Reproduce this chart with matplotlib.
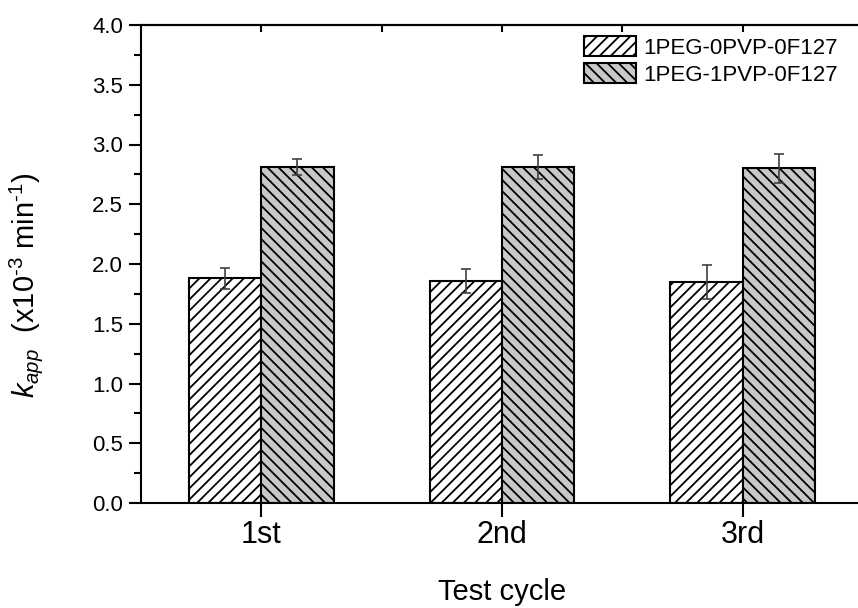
import matplotlib
matplotlib.use("Agg")
import matplotlib.pyplot as plt
import numpy as np

plt.rcParams['font.family'] = ['Liberation Sans', 'DejaVu Sans']
plt.rcParams['mathtext.fontset'] = 'custom'
plt.rcParams['mathtext.rm'] = 'Liberation Sans'
plt.rcParams['mathtext.it'] = 'Liberation Sans:italic'
plt.rcParams['hatch.linewidth'] = 1.3

cycles = ['1st', '2nd', '3rd']
names = ['1PEG-0PVP-0F127', '1PEG-1PVP-0F127']
k_0pvp = [1.88, 1.86, 1.85]
err_0pvp = [0.09, 0.10, 0.14]
k_1pvp = [2.81, 2.81, 2.80]
err_1pvp = [0.065, 0.10, 0.12]

x = np.arange(1, len(cycles) + 1)
w = 0.3

fig = plt.figure(figsize=(8.58, 6.08), dpi=100)
ax = fig.add_axes([141/858, 105/608, 722/858, 478/608])

ax.bar(x - w/2, k_0pvp, w, color='white', edgecolor='black', lw=1.5,
       hatch='///', label=names[0])
ax.bar(x + w/2, k_1pvp, w, color='#c8c8c8', edgecolor='black', lw=1.5,
       hatch='\\\\\\', label=names[1])
ax.errorbar(x - w/2, k_0pvp, yerr=err_0pvp, fmt='none', ecolor='#404040',
            elinewidth=1.2, capsize=3.6, capthick=1.2)
ax.errorbar(x + w/2, k_1pvp, yerr=err_1pvp, fmt='none', ecolor='#404040',
            elinewidth=1.2, capsize=3.6, capthick=1.2)

ax.set_xlim(0.5, 3.5)
ax.set_ylim(0, 4.0)
ax.set_xticks(x)
ax.set_xticklabels(cycles, fontsize=22)
ax.set_yticks(np.arange(0, 4.01, 0.5))
ax.set_yticklabels(['%.1f' % v for v in np.arange(0, 4.01, 0.5)], fontsize=16)
ax.set_yticks(np.arange(0.25, 4.0, 0.5), minor=True)
ax.tick_params(axis='y', which='major', direction='out', length=9, width=1.5, pad=4)
ax.tick_params(axis='y', which='minor', direction='out', length=5, width=1.5)
ax.tick_params(axis='x', which='major', direction='out', length=10, width=1.5, pad=2)

top = ax.secondary_xaxis('top')
top.set_xticks(np.arange(1, 3.6, 0.5))
top.tick_params(direction='in', length=5, width=1.5, labeltop=False)
top.spines['top'].set_linewidth(1.5)

for s in ['left', 'bottom', 'top']:
    ax.spines[s].set_linewidth(1.5)
ax.spines['right'].set_visible(False)

ax.set_xlabel('Test cycle', fontsize=21)
ax.set_ylabel('$k_{app}$  (x10$^{\u20103}$ min$^{\u20101}$)', fontsize=21)
ax.xaxis.set_label_coords(0.5, -0.157)
ax.yaxis.set_label_coords(-0.133, 0.456)

fig.legend(loc='upper left', bbox_to_anchor=(584/858, 1 - 36/608), frameon=False,
           fontsize=16, handlelength=2.35, handleheight=1.0, labelspacing=0.2,
           handletextpad=0.3, borderpad=0, borderaxespad=0)

fig.savefig('out.png', dpi=100)
